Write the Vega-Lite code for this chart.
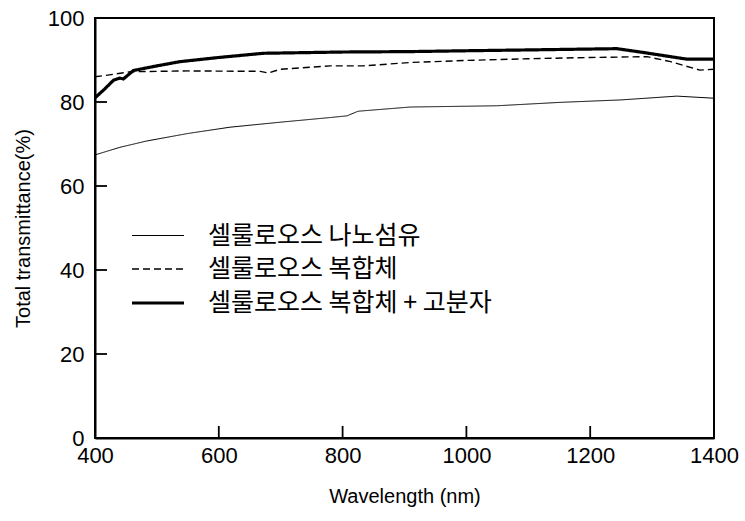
{
  "$schema": "https://vega.github.io/schema/vega-lite/v6.json",
  "autosize": {"type": "none"},
  "width": 619,
  "height": 420,
  "padding": {"left": 95, "top": 18, "right": 31, "bottom": 83},
  "background": "white",
  "config": {
    "view": {"stroke": "black", "strokeWidth": 2},
    "font": "Liberation Sans",
    "axis": {
      "grid": false, "ticks": false, "domainColor": "black", "domainWidth": 2, "labelFlush": false,
      "labelFont": "Liberation Sans", "labelFontSize": 22, "labelColor": "black",
      "titleFont": "Liberation Sans", "titleFontSize": 20, "titleFontWeight": "normal", "titleColor": "black"
    }
  },
  "layer": [
    {
      "data": {"values": [{"wl": 600}, {"wl": 800}, {"wl": 1000}, {"wl": 1200}]},
      "mark": {"type": "tick", "orient": "vertical", "size": 12, "thickness": 1.8, "yOffset": -6, "color": "black", "opacity": 1},
      "encoding": {
        "x": {"field": "wl", "type": "quantitative"},
        "y": {"datum": 0, "type": "quantitative"}
      }
    },
    {
      "data": {"values": [{"t": 20}, {"t": 40}, {"t": 60}, {"t": 80}]},
      "mark": {"type": "tick", "orient": "horizontal", "size": 12, "thickness": 1.8, "xOffset": 6, "color": "black", "opacity": 1},
      "encoding": {
        "y": {"field": "t", "type": "quantitative"},
        "x": {"datum": 400, "type": "quantitative"}
      }
    },
    {
      "data": {
        "values": [
          {"wl": 400, "t": 67.4, "s": "셀룰로오스 나노섬유"},
          {"wl": 440, "t": 69.2, "s": "셀룰로오스 나노섬유"},
          {"wl": 483, "t": 70.7, "s": "셀룰로오스 나노섬유"},
          {"wl": 550, "t": 72.5, "s": "셀룰로오스 나노섬유"},
          {"wl": 618, "t": 74.0, "s": "셀룰로오스 나노섬유"},
          {"wl": 700, "t": 75.2, "s": "셀룰로오스 나노섬유"},
          {"wl": 780, "t": 76.3, "s": "셀룰로오스 나노섬유"},
          {"wl": 807, "t": 76.7, "s": "셀룰로오스 나노섬유"},
          {"wl": 825, "t": 77.8, "s": "셀룰로오스 나노섬유"},
          {"wl": 909, "t": 78.8, "s": "셀룰로오스 나노섬유"},
          {"wl": 1049, "t": 79.1, "s": "셀룰로오스 나노섬유"},
          {"wl": 1150, "t": 79.9, "s": "셀룰로오스 나노섬유"},
          {"wl": 1250, "t": 80.5, "s": "셀룰로오스 나노섬유"},
          {"wl": 1340, "t": 81.4, "s": "셀룰로오스 나노섬유"},
          {"wl": 1400, "t": 80.9, "s": "셀룰로오스 나노섬유"},
          {"wl": 400, "t": 86.0, "s": "셀룰로오스 복합체"},
          {"wl": 430, "t": 86.6, "s": "셀룰로오스 복합체"},
          {"wl": 457, "t": 87.2, "s": "셀룰로오스 복합체"},
          {"wl": 550, "t": 87.4, "s": "셀룰로오스 복합체"},
          {"wl": 667, "t": 87.3, "s": "셀룰로오스 복합체"},
          {"wl": 680, "t": 86.9, "s": "셀룰로오스 복합체"},
          {"wl": 699, "t": 87.8, "s": "셀룰로오스 복합체"},
          {"wl": 780, "t": 88.6, "s": "셀룰로오스 복합체"},
          {"wl": 833, "t": 88.6, "s": "셀룰로오스 복합체"},
          {"wl": 909, "t": 89.4, "s": "셀룰로오스 복합체"},
          {"wl": 1000, "t": 89.9, "s": "셀룰로오스 복합체"},
          {"wl": 1100, "t": 90.3, "s": "셀룰로오스 복합체"},
          {"wl": 1200, "t": 90.6, "s": "셀룰로오스 복합체"},
          {"wl": 1292, "t": 90.8, "s": "셀룰로오스 복합체"},
          {"wl": 1330, "t": 89.6, "s": "셀룰로오스 복합체"},
          {"wl": 1377, "t": 87.6, "s": "셀룰로오스 복합체"},
          {"wl": 1400, "t": 87.8, "s": "셀룰로오스 복합체"},
          {"wl": 400, "t": 81.0, "s": "셀룰로오스 복합체 + 고분자"},
          {"wl": 415, "t": 83.0, "s": "셀룰로오스 복합체 + 고분자"},
          {"wl": 430, "t": 85.2, "s": "셀룰로오스 복합체 + 고분자"},
          {"wl": 440, "t": 85.7, "s": "셀룰로오스 복합체 + 고분자"},
          {"wl": 446, "t": 85.5, "s": "셀룰로오스 복합체 + 고분자"},
          {"wl": 462, "t": 87.5, "s": "셀룰로오스 복합체 + 고분자"},
          {"wl": 500, "t": 88.6, "s": "셀룰로오스 복합체 + 고분자"},
          {"wl": 537, "t": 89.6, "s": "셀룰로오스 복합체 + 고분자"},
          {"wl": 600, "t": 90.6, "s": "셀룰로오스 복합체 + 고분자"},
          {"wl": 672, "t": 91.6, "s": "셀룰로오스 복합체 + 고분자"},
          {"wl": 800, "t": 91.9, "s": "셀룰로오스 복합체 + 고분자"},
          {"wl": 909, "t": 92.0, "s": "셀룰로오스 복합체 + 고분자"},
          {"wl": 1000, "t": 92.2, "s": "셀룰로오스 복합체 + 고분자"},
          {"wl": 1100, "t": 92.4, "s": "셀룰로오스 복합체 + 고분자"},
          {"wl": 1243, "t": 92.7, "s": "셀룰로오스 복합체 + 고분자"},
          {"wl": 1290, "t": 91.7, "s": "셀룰로오스 복합체 + 고분자"},
          {"wl": 1356, "t": 90.2, "s": "셀룰로오스 복합체 + 고분자"},
          {"wl": 1400, "t": 90.2, "s": "셀룰로오스 복합체 + 고분자"}
        ]
      },
      "mark": {"type": "line", "clip": true},
      "encoding": {
        "x": {
          "field": "wl", "type": "quantitative",
          "scale": {"domain": [400, 1400], "nice": false, "zero": false},
          "axis": {"title": "Wavelength (nm)", "values": [400, 600, 800, 1000, 1200, 1400], "format": "d", "labelPadding": 7, "titlePadding": 20}
        },
        "y": {
          "field": "t", "type": "quantitative",
          "scale": {"domain": [0, 100], "nice": false},
          "axis": {"title": "Total transmittance(%)", "values": [0, 20, 40, 60, 80, 100], "format": "d", "labelPadding": 11, "titlePadding": 14}
        },
        "color": {
          "field": "s", "type": "nominal",
          "scale": {"domain": ["셀룰로오스 나노섬유", "셀룰로오스 복합체", "셀룰로오스 복합체 + 고분자"], "range": ["black", "black", "black"]},
          "legend": {
            "orient": "none", "legendX": 48, "legendY": 204, "title": null,
            "symbolType": "M-2,0H2", "symbolSize": 676, "labelFontSize": 25, "labelColor": "black",
            "labelOffset": 35, "rowPadding": 6, "labelFont": "Noto Sans CJK KR", "labelLimit": 0
          }
        },
        "strokeDash": {
          "field": "s", "type": "nominal",
          "scale": {"domain": ["셀룰로오스 나노섬유", "셀룰로오스 복합체", "셀룰로오스 복합체 + 고분자"], "range": [[1, 0], [7, 4], [1, 0]]}
        },
        "strokeWidth": {
          "field": "s", "type": "ordinal",
          "scale": {"type": "ordinal", "domain": ["셀룰로오스 나노섬유", "셀룰로오스 복합체", "셀룰로오스 복합체 + 고분자"], "range": [1, 1.4, 3.2]}
        }
      }
    }
  ]
}
